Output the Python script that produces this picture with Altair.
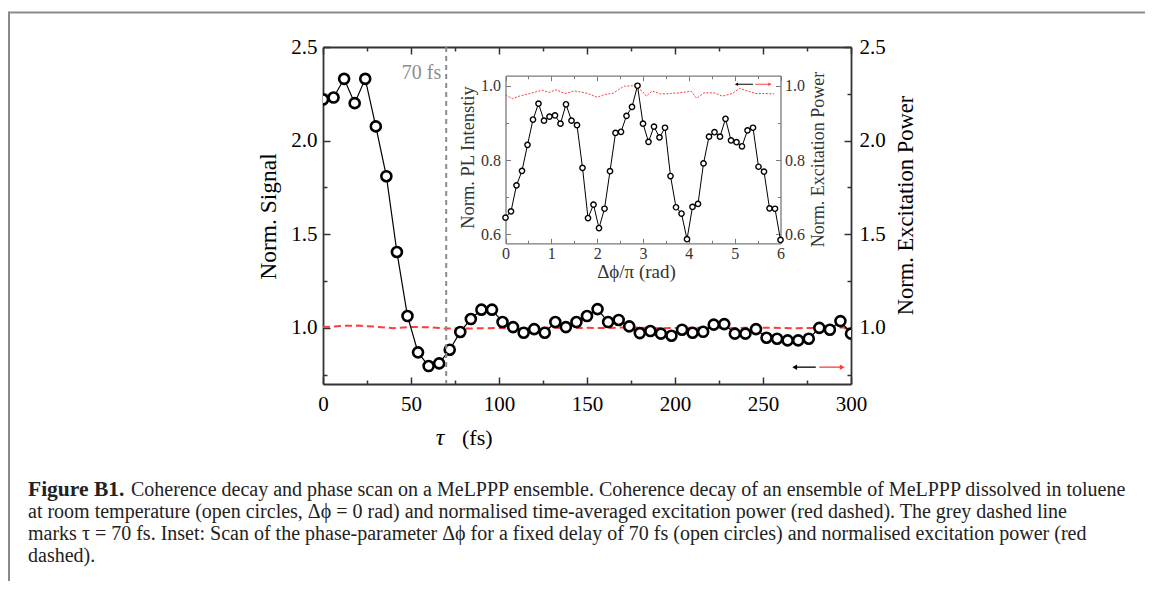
import altair as alt
import pandas as pd

SERIF = "Liberation Serif"
DARK = "#333333"
GREY = "#8c8c8c"
RED = "#ff3b3b"

# ---------------- main panel: coherence decay ----------------
TAU_FS = [0, 6, 12, 18, 24, 30, 36, 42, 48, 54, 60, 66, 72, 78, 84, 90, 96, 102, 108, 114,
          120, 126, 132, 138, 144, 150, 156, 162, 168, 174, 180, 186, 192, 198, 204, 210,
          216, 222, 228, 234, 240, 246, 252, 258, 264, 270, 276, 282, 288, 294, 300]
NORM_SIGNAL = [2.22, 2.23, 2.33, 2.20, 2.33, 2.076, 1.81, 1.405, 1.063, 0.869, 0.796, 0.81,
               0.883, 0.978, 1.047, 1.097, 1.097, 1.031, 1.004, 0.974, 0.993, 0.974, 1.031,
               1.004, 1.031, 1.063, 1.10, 1.031, 1.042, 1.008, 0.972, 0.983, 0.969, 0.958,
               0.99, 0.974, 0.979, 1.017, 1.02, 0.969, 0.969, 0.993, 0.947, 0.942, 0.933,
               0.933, 0.942, 1.0, 0.99, 1.036, 0.969]
POWER_TAU_FS = [0, 10, 20, 30, 40, 50, 60, 70, 80, 90, 100, 110, 120, 130, 140, 150, 160,
                170, 180, 190, 200, 210, 220, 230, 240, 250, 260, 270, 280, 290, 300]
NORM_POWER = [1.004, 1.010, 1.012, 1.006, 0.998, 1.005, 1.003, 0.996, 0.996, 0.998, 0.999,
              0.997, 0.999, 1.001, 0.998, 1.000, 0.999, 1.002, 1.001, 0.998, 0.999, 1.001,
              1.000, 0.998, 1.000, 1.001, 0.999, 0.998, 1.000, 1.002, 1.001]
MARK_TAU = [70]
MARK_LABEL = ["70 fs"]
MARK_LABEL_Y = [2.36]
ARROW_FROM = [280, 282]
ARROW_TO = [268, 295]
ARROW_Y = [0.79, 0.79]
ARROW_COLOR = ["black", RED]
ARROW_SHAPE = ["triangle-left", "triangle-right"]

# ---------------- inset: phase scan ----------------
PHASE = [0.0, 0.12, 0.24, 0.36, 0.48, 0.6, 0.72, 0.84, 0.96, 1.08, 1.2, 1.32, 1.44, 1.56,
         1.68, 1.8, 1.92, 2.04, 2.16, 2.28, 2.4, 2.52, 2.64, 2.76, 2.88, 3.0, 3.12, 3.24,
         3.36, 3.48, 3.6, 3.72, 3.84, 3.96, 4.08, 4.2, 4.32, 4.44, 4.56, 4.68, 4.8, 4.92,
         5.04, 5.16, 5.28, 5.4, 5.52, 5.64, 5.76, 5.88, 6.0]
PL_INTENSITY = [0.645, 0.662, 0.732, 0.771, 0.841, 0.909, 0.952, 0.906, 0.917, 0.920,
                0.898, 0.950, 0.906, 0.894, 0.779, 0.644, 0.680, 0.617, 0.669, 0.770,
                0.873, 0.876, 0.919, 0.943, 1.0, 0.898, 0.849, 0.890, 0.861, 0.887,
                0.757, 0.673, 0.656, 0.587, 0.674, 0.682, 0.791, 0.863, 0.875, 0.863,
                0.911, 0.853, 0.848, 0.837, 0.880, 0.887, 0.782, 0.769, 0.670, 0.669, 0.585]
INSET_POWER_PHASE = [0.0, 0.15, 0.3, 0.5, 0.65, 0.8, 0.95, 1.1, 1.3, 1.5, 1.65, 1.8, 2.0,
                     2.15, 2.35, 2.5, 2.6, 2.8, 2.98, 3.07, 3.2, 3.38, 3.6, 3.8, 4.05, 4.17,
                     4.33, 4.55, 4.73, 4.95, 5.1, 5.28, 5.46, 5.64, 5.86]
INSET_POWER = [0.975, 0.965, 0.972, 0.978, 0.983, 0.988, 0.982, 0.989, 0.979, 0.986, 0.983,
               0.979, 0.969, 0.976, 0.980, 0.992, 0.999, 1.0, 0.986, 0.972, 0.986, 0.978,
               0.979, 0.981, 0.985, 0.966, 0.981, 0.981, 0.972, 0.979, 0.993, 0.986, 0.979,
               0.979, 0.978]
INSET_ARROW_FROM = [5.40, 5.45]
INSET_ARROW_TO = [5.04, 5.77]
INSET_ARROW_Y = [1.004, 1.004]

CAPTION_BOLD = "Figure B1."
CAPTION_LINE1 = ("Coherence decay and phase scan on a MeLPPP ensemble. Coherence decay of an "
                 "ensemble of MeLPPP dissolved in toluene")
CAPTION_REST = [
    "at room temperature (open circles, \u0394\u03d5 = 0 rad) and normalised time-averaged "
    "excitation power (red dashed). The grey dashed line",
    "marks \u03c4 = 70 fs. Inset: Scan of the phase-parameter \u0394\u03d5 for a fixed delay of "
    "70 fs (open circles) and normalised excitation power (red",
    "dashed).",
]

W, H = 528, 337


def ax(**kw):
    base = dict(grid=False, labelFont=SERIF, titleFont=SERIF, titleFontWeight="normal",
                labelFlush=False, labelOverlap=False)
    base.update(kw)
    return alt.Axis(**base)


def tick_axis(orient, values, expr, color=DARK, width=1.5, offset=0):
    return ax(orient=orient, values=values, labels=False, domain=False, title=None,
              tickSize={"expr": expr}, tickColor=color, tickWidth=width, offset=offset)


XS = alt.Scale(domain=[0, 300], nice=False, zero=False)
YS = alt.Scale(domain=[0.7, 2.5], nice=False, zero=False)

main_df = pd.DataFrame({"tau": TAU_FS, "signal": NORM_SIGNAL})
pow_df = pd.DataFrame({"tau": POWER_TAU_FS, "power": NORM_POWER})
mark_df = pd.DataFrame({"tau": MARK_TAU, "label": MARK_LABEL, "y": MARK_LABEL_Y})
arrow_df = pd.DataFrame({"x": ARROW_FROM, "x2": ARROW_TO, "y": ARROW_Y,
                         "c": ARROW_COLOR, "shape": ARROW_SHAPE})

X_MAJ = [0, 50, 100, 150, 200, 250, 300]
X_ALL = [0, 25, 50, 75, 100, 125, 150, 175, 200, 225, 250, 275, 300]
Y_MAJ = [1.0, 1.5, 2.0, 2.5]
Y_ALL = [0.75, 1.0, 1.25, 1.5, 1.75, 2.0, 2.25, 2.5]
X_EXPR = "datum.value % 50 === 0 ? -7 : -4"
Y_EXPR = "abs(datum.value * 2 - round(datum.value * 2)) < 1e-6 ? -7 : -4"

red_line = alt.Chart(pow_df).mark_line(color=RED, strokeWidth=2, strokeDash=[7, 4]).encode(
    x=alt.X("tau:Q", scale=XS, axis=ax(orient="bottom", values=X_MAJ, format="d", ticks=False,
                                        domainColor=DARK, domainWidth=1.8, labelFontSize=21,
                                        labelColor="black", labelPadding=9, title=None)),
    y=alt.Y("power:Q", scale=YS, axis=ax(orient="left", values=Y_MAJ, format=".1f", ticks=False,
                                          domainColor=DARK, domainWidth=1.8, labelFontSize=21,
                                          labelColor="black", labelPadding=6,
                                          title="Norm. Signal", titleFontSize=23.5,
                                          titleColor="black", titleAngle=270, titleX=-55,
                                          titleY=169, titleAlign="center",
                                          titleBaseline="middle")),
)

conn_line = alt.Chart(main_df).mark_line(color="black", strokeWidth=1.2).encode(
    x=alt.X("tau:Q", scale=XS, axis=ax(orient="top", values=X_ALL, labels=False,
                                        tickSize={"expr": X_EXPR}, tickColor=DARK,
                                        tickWidth=1.5, domainColor=DARK, domainWidth=1.8,
                                        title=None)),
    y=alt.Y("signal:Q", scale=YS, axis=ax(orient="right", values=Y_MAJ, format=".1f",
                                           ticks=False, domainColor=DARK, domainWidth=1.8,
                                           labelFontSize=21, labelColor="black",
                                           labelPadding=8, title="Norm. Excitation Power",
                                           titleFontSize=22.5, titleColor="black",
                                           titleAngle=270, titleX=54, titleY=158,
                                           titleAlign="center", titleBaseline="middle")),
)

points = alt.Chart(main_df).mark_point(shape="circle", size=100, filled=True, fill="white",
                                       stroke="black", strokeWidth=2.6, opacity=1,
                                       clip=True).encode(
    x=alt.X("tau:Q", scale=XS, axis=tick_axis("bottom", X_ALL, X_EXPR)),
    y=alt.Y("signal:Q", scale=YS, axis=tick_axis("left", Y_ALL, Y_EXPR)),
)

vline = alt.Chart(mark_df).mark_rule(color=GREY, strokeWidth=2, strokeDash=[5, 4]).encode(
    x=alt.X("tau:Q", scale=XS, axis=None),
)

label70 = alt.Chart(mark_df).mark_text(font=SERIF, fontSize=20, color=GREY, align="right",
                                       baseline="middle", dx=-5).encode(
    x=alt.X("tau:Q", scale=XS, axis=None),
    y=alt.Y("y:Q", scale=YS, axis=None),
    text="label:N",
)

arrow_rules = alt.Chart(arrow_df).mark_rule(strokeWidth=1.3).encode(
    x=alt.X("x:Q", scale=XS, axis=None),
    x2="x2:Q",
    y=alt.Y("y:Q", scale=YS, axis=tick_axis("right", Y_ALL, Y_EXPR)),
    color=alt.Color("c:N", scale=None),
)
arrow_heads = alt.Chart(arrow_df).mark_point(filled=True, size=30, opacity=1).encode(
    x=alt.X("x2:Q", scale=XS, axis=None),
    y=alt.Y("y:Q", scale=YS, axis=None),
    color=alt.Color("c:N", scale=None),
    shape=alt.Shape("shape:N", scale=None),
)

main = alt.layer(red_line, conn_line, points, vline, label70, arrow_rules,
                 arrow_heads).resolve_axis(x="independent", y="independent")

# ---------------- inset ----------------
IX0, IX1 = 182.5, 457.5
IY0, IY1 = 196.3, 28.7
XI = alt.Scale(domain=[0, 6], range=[IX0, IX1], nice=False, zero=False)
YI = alt.Scale(domain=[0.576, 1.027], range=[IY0, IY1], nice=False, zero=False)
OFF_B = -(H - IY0)
OFF_T = -IY1
OFF_L = -IX0
OFF_R = -(W - IX1)

inset_df = pd.DataFrame({"phase": PHASE, "pl": PL_INTENSITY})
ipow_df = pd.DataFrame({"phase": INSET_POWER_PHASE, "power": INSET_POWER})
iarrow_df = pd.DataFrame({"x": INSET_ARROW_FROM, "x2": INSET_ARROW_TO, "y": INSET_ARROW_Y,
                          "c": ARROW_COLOR, "shape": ARROW_SHAPE})

XI_MAJ = [0, 1, 2, 3, 4, 5, 6]
XI_ALL = [0, 0.5, 1, 1.5, 2, 2.5, 3, 3.5, 4, 4.5, 5, 5.5, 6]
YI_MAJ = [0.6, 0.8, 1.0]
YI_ALL = [0.6, 0.7, 0.8, 0.9, 1.0]
XI_EXPR = "datum.value % 1 === 0 ? -5 : -3"
YI_EXPR = "abs(datum.value * 5 - round(datum.value * 5)) < 1e-6 ? -5 : -3"
IAX = "#7a7a7a"
ITXT = "#333333"

i_red = alt.Chart(ipow_df).mark_line(color=RED, strokeWidth=1, strokeDash=[2, 1.5]).encode(
    x=alt.X("phase:Q", scale=XI, axis=ax(orient="bottom", values=XI_MAJ, format="d",
                                          ticks=False, domainColor=IAX, domainWidth=1.3,
                                          labelFontSize=16, labelColor=ITXT, labelPadding=2,
                                          offset=OFF_B, title="\u0394\u03d5/\u03c0 (rad)",
                                          titleFontSize=19, titleColor=ITXT, titleX=313,
                                          titleY=28, titleAlign="center",
                                          titleBaseline="middle")),
    y=alt.Y("power:Q", scale=YI, axis=ax(orient="left", values=YI_MAJ, format=".1f",
                                          ticks=False, domainColor=IAX, domainWidth=1.3,
                                          labelFontSize=16, labelColor=ITXT, labelPadding=5,
                                          offset=OFF_L, title="Norm. PL Intenstiy",
                                          titleFontSize=18.5, titleColor=ITXT, titleAngle=270,
                                          titleX=-38, titleY=110, titleAlign="center",
                                          titleBaseline="middle")),
)

i_line = alt.Chart(inset_df).mark_line(color="black", strokeWidth=1).encode(
    x=alt.X("phase:Q", scale=XI, axis=ax(orient="top", values=XI_ALL, labels=False,
                                          tickSize={"expr": XI_EXPR}, tickColor=IAX,
                                          tickWidth=1, domainColor=IAX, domainWidth=1.3,
                                          offset=OFF_T, title=None)),
    y=alt.Y("pl:Q", scale=YI, axis=ax(orient="right", values=YI_MAJ, format=".1f",
                                       ticks=False, domainColor=IAX, domainWidth=1.3,
                                       labelFontSize=16, labelColor=ITXT, labelPadding=4,
                                       offset=OFF_R, title="Norm. Excitation Power",
                                       titleFontSize=18, titleColor=ITXT, titleAngle=270,
                                       titleX=38, titleY=112, titleAlign="center",
                                       titleBaseline="middle")),
)

i_points = alt.Chart(inset_df).mark_point(shape="circle", size=28, filled=True, fill="white",
                                          stroke="black", strokeWidth=1.4, opacity=1).encode(
    x=alt.X("phase:Q", scale=XI, axis=tick_axis("bottom", XI_ALL, XI_EXPR, IAX, 1, OFF_B)),
    y=alt.Y("pl:Q", scale=YI, axis=tick_axis("left", YI_ALL, YI_EXPR, IAX, 1, OFF_L)),
)

i_arrow_rules = alt.Chart(iarrow_df).mark_rule(strokeWidth=1).encode(
    x=alt.X("x:Q", scale=XI, axis=None),
    x2="x2:Q",
    y=alt.Y("y:Q", scale=YI, axis=tick_axis("right", YI_ALL, YI_EXPR, IAX, 1, OFF_R)),
    color=alt.Color("c:N", scale=None),
)
i_arrow_heads = alt.Chart(iarrow_df).mark_point(filled=True, size=14, opacity=1).encode(
    x=alt.X("x2:Q", scale=XI, axis=None),
    y=alt.Y("y:Q", scale=YI, axis=None),
    color=alt.Color("c:N", scale=None),
    shape=alt.Shape("shape:N", scale=None),
)

inset = alt.layer(i_red, i_line, i_points, i_arrow_rules,
                  i_arrow_heads).resolve_axis(x="independent", y="independent")

# ---------------- decorations: x title, caption, frame ----------------
one = pd.DataFrame({"k": [0]})

tau_sym = alt.Chart(one).mark_text(text="\u03c4", font=SERIF, fontSize=24, fontStyle="italic",
                                   align="center", baseline="middle", color="black").encode(
    x=alt.value(117), y=alt.value(391))
fs_txt = alt.Chart(one).mark_text(text="(fs)", font=SERIF, fontSize=22, align="left",
                                  baseline="middle", color="black").encode(
    x=alt.value(139), y=alt.value(391))

CAP_SIZE = 20
cap_bold = alt.Chart(one).mark_text(text=CAPTION_BOLD, font=SERIF, fontSize=21.5,
                                    fontWeight="bold", align="left", baseline="alphabetic",
                                    color="#222222").encode(x=alt.value(-295), y=alt.value(449))
cap_l1 = alt.Chart(one).mark_text(text=CAPTION_LINE1, font=SERIF, fontSize=CAP_SIZE,
                                  align="left", baseline="alphabetic",
                                  color="#222222").encode(x=alt.value(-192), y=alt.value(449))
cap_rest = alt.Chart(one).mark_text(font=SERIF, fontSize=CAP_SIZE, align="left",
                                    baseline="alphabetic", lineHeight=22,
                                    color="#222222").encode(
    x=alt.value(-295), y=alt.value(471), text=alt.value(CAPTION_REST))

frame_top = alt.Chart(one).mark_rule(color="#8a8a8a", strokeWidth=2).encode(
    x=alt.value(-314), x2=alt.value(830), y=alt.value(-34.5))
frame_left = alt.Chart(one).mark_rule(color="#8a8a8a", strokeWidth=2).encode(
    x=alt.value(-314), y=alt.value(-35.5), y2=alt.value(545))

deco = alt.layer(tau_sym, fs_txt, cap_bold, cap_l1, cap_rest, frame_top, frame_left)

chart = alt.layer(main, inset, deco).resolve_scale(
    x="independent", y="independent"
).properties(
    width=W, height=H,
    autosize=alt.AutoSizeParams(type="none"),
    padding={"left": 315, "top": 39, "right": 294, "bottom": 197},
).configure_view(stroke=None)

chart.save("out.html", embed_options={"renderer": "svg", "actions": False})
